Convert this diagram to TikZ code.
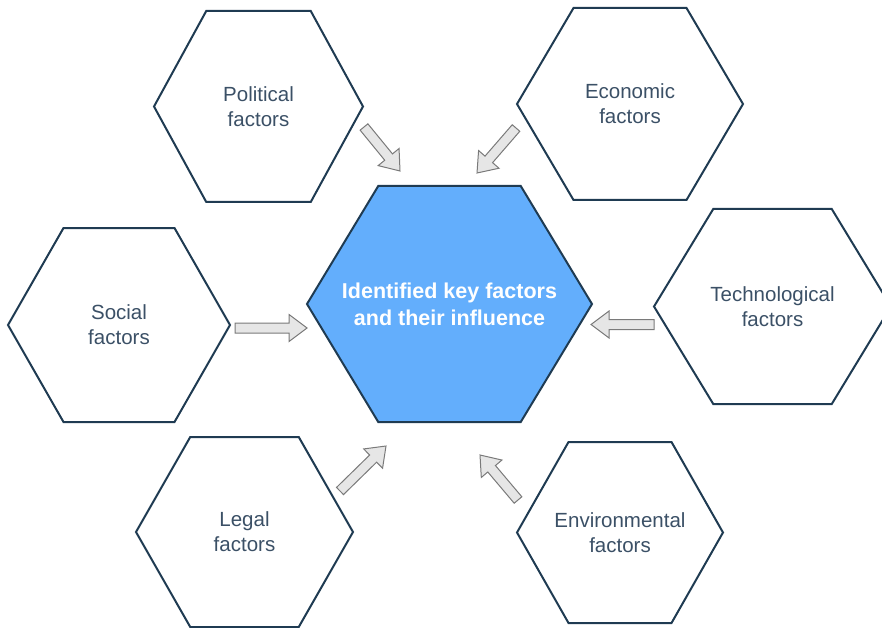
\documentclass[tikz,border=0pt]{standalone}
\usepackage{fontspec}
\setmainfont{Liberation Sans}
\usetikzlibrary{calc,backgrounds}
\definecolor{hexedge}{HTML}{1F3B52}
\definecolor{labeltext}{HTML}{3B5066}
\definecolor{hubfill}{HTML}{63AEFC}
\definecolor{arrowfill}{HTML}{E6E6E6}
\definecolor{arrowedge}{HTML}{7A7A7A}
\newcommand{\hexoutline}[2][]{\draw[line width=2pt, draw=hexedge, line join=miter, #1] (#2.west) -- ($(#2.north west)!0.25!(#2.north east)$) -- ($(#2.north west)!0.75!(#2.north east)$) -- (#2.east) -- ($(#2.south west)!0.75!(#2.south east)$) -- ($(#2.south west)!0.25!(#2.south east)$) -- cycle;}

\begin{document}
\begin{tikzpicture}[x=1pt, y=-1pt,
  factor/.style={inner sep=0pt, outer sep=0pt, align=center, text=labeltext, font=\fontsize{20.5}{25}\selectfont},
  hubnode/.style={factor, text=white, font=\fontsize{21.5}{27}\selectfont\bfseries},
  fatarrow/.style={draw=arrowedge, fill=arrowfill, line width=1pt, line join=miter, to path={($(\tikztostart)!5pt!90:(\tikztotarget)$) -- ($(\tikztotarget)!18pt!(\tikztostart)!5pt!90:(\tikztotarget)$) -- ($(\tikztotarget)!18pt!(\tikztostart)!13.5pt!90:(\tikztotarget)$) -- (\tikztotarget) -- ($(\tikztotarget)!18pt!(\tikztostart)!13.5pt!-90:(\tikztotarget)$) -- ($(\tikztotarget)!18pt!(\tikztostart)!5pt!-90:(\tikztotarget)$) -- ($(\tikztostart)!5pt!-90:(\tikztotarget)$) -- cycle}}]
\useasboundingbox (0,0) rectangle (882,628);
\node[hubnode, minimum width=285pt, minimum height=236pt] (hub) at (449.5,304) {Identified key factors\\and their influence};
\node[factor, minimum width=209pt, minimum height=191pt] (political) at (258.5,106.5) {Political\\factors};
\node[factor, minimum width=226pt, minimum height=192pt] (economic) at (630,104) {Economic\\factors};
\node[factor, minimum width=222pt, minimum height=194pt] (social) at (119,325) {Social\\factors};
\node[factor, minimum width=237pt, minimum height=195pt] (tech) at (772.5,306.5) {Technological\\factors};
\node[factor, minimum width=217pt, minimum height=190pt] (legal) at (244.5,532) {Legal\\factors};
\node[factor, minimum width=206pt, minimum height=181pt] (env) at (620,532.5) {Environmental\\factors};
\coordinate (polfrom) at (364,127);
\coordinate (polto) at (400,171);
\coordinate (ecofrom) at (516,128);
\coordinate (ecoto) at (477,173);
\coordinate (socfrom) at (235,328);
\coordinate (socto) at (307,328);
\coordinate (techfrom) at (654,324.5);
\coordinate (techto) at (591,324.5);
\coordinate (legfrom) at (340,491);
\coordinate (legto) at (386,446);
\coordinate (envfrom) at (518,500);
\coordinate (envto) at (480,455);
\draw[fatarrow] (polfrom) to (polto);
\draw[fatarrow] (ecofrom) to (ecoto);
\draw[fatarrow] (socfrom) to (socto);
\draw[fatarrow] (techfrom) to (techto);
\draw[fatarrow] (legfrom) to (legto);
\draw[fatarrow] (envfrom) to (envto);
\begin{scope}[on background layer]
\hexoutline[fill=hubfill]{hub}
\hexoutline{political}
\hexoutline{economic}
\hexoutline{social}
\hexoutline{tech}
\hexoutline{legal}
\hexoutline{env}
\end{scope}
\end{tikzpicture}
\end{document}
